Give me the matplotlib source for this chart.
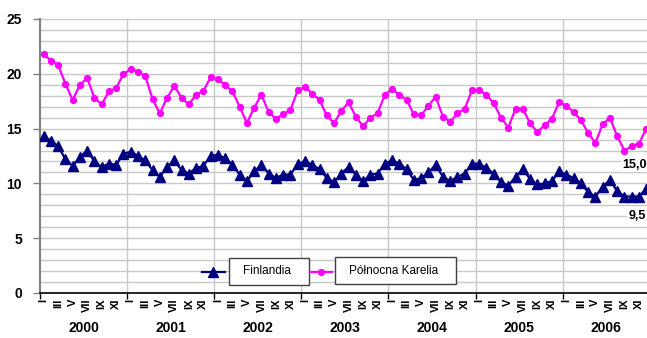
import matplotlib
matplotlib.use("Agg")
import matplotlib.pyplot as plt
from matplotlib.lines import Line2D
from matplotlib.patches import Rectangle
from matplotlib.transforms import blended_transform_factory
import numpy as np

plt.rcParams['font.family'] = ['Liberation Sans', 'DejaVu Sans']

years = ["2000", "2001", "2002", "2003", "2004", "2005", "2006"]
month_labels = ["I", "", "III", "", "V", "", "VII", "", "IX", "", "XI", ""]

finlandia = [
    14.3, 13.9, 13.4, 12.2, 11.6, 12.4, 13.0, 12.0, 11.5, 11.8, 11.7, 12.7,
    12.9, 12.5, 12.1, 11.2, 10.6, 11.5, 12.1, 11.2, 10.9, 11.4, 11.6, 12.5,
    12.6, 12.3, 11.7, 10.8, 10.2, 11.1, 11.7, 10.9, 10.5, 10.8, 10.8, 11.8,
    12.0, 11.7, 11.3, 10.5, 10.1, 10.9, 11.5, 10.8, 10.2, 10.8, 10.9, 11.8,
    12.1, 11.8, 11.3, 10.3, 10.5, 11.0, 11.7, 10.6, 10.2, 10.6, 10.9, 11.8,
    11.8, 11.4, 10.9, 10.1, 9.8, 10.6, 11.3, 10.4, 9.9, 10.0, 10.2, 11.1,
    10.8, 10.5, 10.0, 9.2, 8.8, 9.7, 10.3, 9.3, 8.8, 8.8, 8.8, 9.5,
]
karelia = [
    21.8, 21.2, 20.8, 19.1, 17.6, 19.0, 19.6, 17.8, 17.2, 18.4, 18.7, 20.0,
    20.4, 20.2, 19.8, 17.7, 16.4, 17.8, 18.9, 17.8, 17.2, 18.1, 18.4, 19.7,
    19.5, 19.0, 18.4, 17.0, 15.5, 16.9, 18.1, 16.5, 15.9, 16.3, 16.7, 18.5,
    18.8, 18.2, 17.6, 16.2, 15.5, 16.6, 17.4, 16.1, 15.2, 16.0, 16.4, 18.1,
    18.6, 18.1, 17.6, 16.3, 16.2, 17.1, 17.9, 16.1, 15.6, 16.4, 16.8, 18.5,
    18.5, 18.1, 17.3, 16.0, 15.1, 16.8, 16.8, 15.5, 14.7, 15.3, 15.9, 17.4,
    17.1, 16.5, 15.8, 14.6, 13.7, 15.4, 16.0, 14.3, 13.0, 13.4, 13.6, 15.0,
]
series_names = ["Finlandia", "Północna Karelia"]

W, H = 647, 338
fig = plt.figure(figsize=(W / 100, H / 100), dpi=100)
n = len(finlandia)
left_px, top_px, bottom_px = 40, 19, 293
step_px = 7.26
right_px = left_px + n * step_px
ax = fig.add_axes([left_px / W, 1 - bottom_px / H, (right_px - left_px) / W, (bottom_px - top_px) / H])

x = np.arange(n)
blue = "#000080"
pink = "#FF00FF"

ax.set_xlim(-0.5, n - 0.5)
ax.set_ylim(0, 25)

# grid
for v in range(1, 26):
    ax.axhline(v, color="#c8c8c8", lw=1.0, zorder=0)
for k in range(1, len(years)):
    ax.axvline(12 * k - 0.5, color="#c8c8c8", lw=1.0, zorder=0)

ax.plot(x, karelia, color=pink, lw=1.6, marker="o", ms=4.2, zorder=3)
ax.plot(x, finlandia, color=blue, lw=1.6, marker="^", ms=6.5, zorder=3)

# y axis
ax.set_yticks(range(0, 26, 5))
ax.set_yticklabels([str(v) for v in range(0, 26, 5)], fontsize=10, fontweight="bold")
ax.tick_params(axis="y", length=5, width=1, color="#808080", pad=8)

# x axis
ax.set_xticks([12 * k - 0.5 for k in range(len(years) + 1)])
ax.set_xticklabels([])
ax.tick_params(axis="x", length=4, width=1, color="black")
for i in range(n):
    lab = month_labels[i % 12]
    if lab:
        ax.annotate(lab, xy=(i, 0), xycoords="data", xytext=(0, -4),
                    textcoords="offset points", rotation=90, ha="center", va="top",
                    fontsize=8, fontweight="bold", annotation_clip=False)
trans = blended_transform_factory(ax.transData, ax.transAxes)
for k, yr in enumerate(years):
    ax.text(12 * k + 5.5, -0.128, yr, transform=trans, ha="center", va="center",
            fontsize=10, fontweight="bold", clip_on=False)

for s in ["top", "right"]:
    ax.spines[s].set_visible(False)
ax.spines["left"].set_color("#808080")
ax.spines["left"].set_linewidth(1.5)
ax.spines["bottom"].set_color("black")
ax.spines["bottom"].set_linewidth(1.2)

# end value labels
ax.annotate(f"{karelia[-1]:.1f}".replace(".", ","), xy=(n - 1, karelia[-1]),
            xytext=(-12, -36), textcoords="offset pixels", ha="center", va="center",
            fontsize=9, fontweight="bold", zorder=5,
            bbox=dict(facecolor="white", edgecolor="none", pad=1.0))
ax.annotate(f"{finlandia[-1]:.1f}".replace(".", ","), xy=(n - 1, finlandia[-1]),
            xytext=(-9, -27), textcoords="offset pixels", ha="center", va="center",
            fontsize=9, fontweight="bold", zorder=5,
            bbox=dict(facecolor="white", edgecolor="none", pad=1.0))

# legend (separate boxes)
def fx(px):
    return px / W
def fy(py):
    return 1 - py / H

legend_items = [
    (series_names[0], blue, "^", 6.5, (202, 225, 213, 272), (229, 257.5, 309, 284.5), 243),
    (series_names[1], pink, "o", 4.2, (310, 332, 321, 271.5), (335, 257, 456, 284), 349),
]
for name, col, mk, ms, (x0, x1, xm, yl), (bx0, by0, bx1, by1), tx in legend_items:
    fig.add_artist(Line2D([fx(x0), fx(x1)], [fy(yl), fy(yl)], color=col, lw=1.6,
                          transform=fig.transFigure))
    fig.add_artist(Line2D([fx(xm)], [fy(yl)], color=col, marker=mk, ms=ms,
                          transform=fig.transFigure))
    fig.add_artist(Rectangle((fx(bx0), fy(by1)), fx(bx1) - fx(bx0), fy(by0) - fy(by1),
                             transform=fig.transFigure, facecolor="white",
                             edgecolor="#404040", lw=1.0))
    fig.text(fx(tx), fy((by0 + by1) / 2), name, ha="left", va="center", fontsize=8.5)

fig.savefig("out.png", dpi=100)
